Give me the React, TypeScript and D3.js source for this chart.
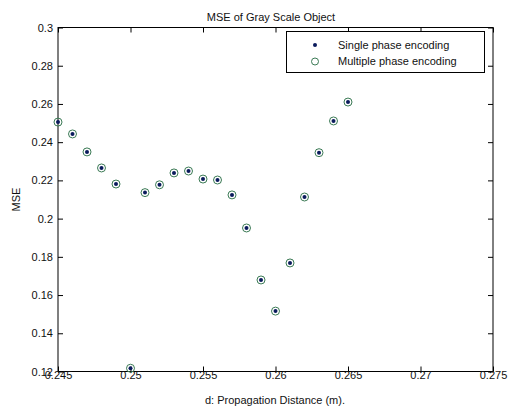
import React, { useEffect, useRef } from 'react';
import * as d3 from 'd3';

// propagation distance (m)
const distances = [
  0.245, 0.246, 0.247, 0.248, 0.249, 0.25, 0.251, 0.252, 0.253, 0.254, 0.255,
  0.256, 0.257, 0.258, 0.259, 0.26, 0.261, 0.262, 0.263, 0.264, 0.265,
];
// MSE, single phase encoding
const singleMse = [
  0.2505, 0.2443, 0.2349, 0.2265, 0.2181, 0.1217, 0.2136, 0.2177, 0.2239, 0.2249, 0.2207,
  0.2202, 0.2124, 0.1951, 0.1679, 0.1516, 0.1768, 0.2113, 0.2345, 0.2511, 0.261,
];
// MSE, multiple phase encoding (same values in the plot)
const multipleMse = [
  0.2505, 0.2443, 0.2349, 0.2265, 0.2181, 0.1217, 0.2136, 0.2177, 0.2239, 0.2249, 0.2207,
  0.2202, 0.2124, 0.1951, 0.1679, 0.1516, 0.1768, 0.2113, 0.2345, 0.2511, 0.261,
];
const xTicks = [0.245, 0.25, 0.255, 0.26, 0.265, 0.27, 0.275];
const yTicks = [0.12, 0.14, 0.16, 0.18, 0.2, 0.22, 0.24, 0.26, 0.28, 0.3];
const legendLabels = ['Single phase encoding', 'Multiple phase encoding'];

const font = 'Liberation Sans, Arial, sans-serif';
const dotColor = '#0a1a5c';
const ringColor = '#3b7a55';

const App = () => {
  const ref = useRef<SVGSVGElement>(null);

  useEffect(() => {
    const svg = d3.select(ref.current);
    svg.selectAll('*').remove();

    const left = 58, right = 493, top = 27.5, bottom = 371.5;

    const x = d3.scaleLinear().domain([0.245, 0.275]).range([left, right]);
    const y = d3.scaleLinear().domain([0.12, 0.3]).range([bottom, top]);

    svg.append('rect').attr('width', 509).attr('height', 408).attr('fill', '#fff');

    // box
    svg.append('rect')
      .attr('x', left).attr('y', top)
      .attr('width', right - left).attr('height', bottom - top)
      .attr('fill', 'none').attr('stroke', '#000').attr('stroke-width', 1);

    const fmt = (d: number) => d3.format('~g')(d);

    // bottom axis with inward ticks
    const xb = svg.append('g').attr('transform', `translate(0,${bottom})`)
      .call(d3.axisBottom(x).tickValues(xTicks).tickSizeInner(-5).tickSizeOuter(0).tickPadding(1).tickFormat(fmt as any));
    // top ticks
    svg.append('g').attr('transform', `translate(0,${top})`)
      .call(d3.axisTop(x).tickValues(xTicks).tickSizeInner(-5).tickSizeOuter(0).tickFormat(() => ''));
    const yl = svg.append('g').attr('transform', `translate(${left},0)`)
      .call(d3.axisLeft(y).tickValues(yTicks).tickSizeInner(-5).tickSizeOuter(0).tickPadding(5).tickFormat(fmt as any));
    svg.append('g').attr('transform', `translate(${right},0)`)
      .call(d3.axisRight(y).tickValues(yTicks).tickSizeInner(-5).tickSizeOuter(0).tickFormat(() => ''));

    svg.selectAll('.domain').remove();
    svg.selectAll('.tick line').attr('stroke', '#000');
    svg.selectAll('.tick text')
      .attr('font-family', font).attr('font-size', 11).attr('fill', '#111');
    xb.selectAll('.tick text').attr('dy', '0.6em');
    yl.selectAll('.tick text').attr('dy', '0.32em');

    // points
    const g = svg.append('g');
    g.selectAll('.ring')
      .data(distances)
      .enter()
      .append('circle')
      .attr('class', 'ring')
      .attr('cx', (d) => x(d))
      .attr('cy', (_d, i) => y(multipleMse[i]))
      .attr('r', 4)
      .attr('fill', 'none')
      .attr('stroke', ringColor)
      .attr('stroke-width', 1);
    g.selectAll('.dot')
      .data(distances)
      .enter()
      .append('circle')
      .attr('class', 'dot')
      .attr('cx', (d) => x(d))
      .attr('cy', (_d, i) => y(singleMse[i]))
      .attr('r', 2)
      .attr('fill', dotColor);

    // legend
    const lg = svg.append('g');
    lg.append('rect')
      .attr('x', 286.5).attr('y', 31.5).attr('width', 198).attr('height', 41)
      .attr('fill', '#fff').attr('stroke', '#000');
    lg.append('circle').attr('cx', 315).attr('cy', 45).attr('r', 2).attr('fill', dotColor);
    lg.append('circle').attr('cx', 315).attr('cy', 61.5).attr('r', 3.5)
      .attr('fill', 'none').attr('stroke', ringColor);
    legendLabels.forEach((t, i) => {
      lg.append('text')
        .attr('x', 338).attr('y', 45 + i * 16.5).attr('dy', '0.35em')
        .attr('font-family', font).attr('font-size', 11).attr('fill', '#111')
        .text(t);
    });

    // title and axis labels
    svg.append('text')
      .attr('x', 271).attr('y', 17).attr('dy', '0.35em').attr('text-anchor', 'middle')
      .attr('font-family', font).attr('font-size', 11).attr('fill', '#111')
      .text('MSE of Gray Scale Object');
    svg.append('text')
      .attr('x', 275).attr('y', 400).attr('dy', '0.35em').attr('text-anchor', 'middle')
      .attr('font-family', font).attr('font-size', 11).attr('fill', '#111')
      .text('d: Propagation Distance (m).');
    svg.append('text')
      .attr('transform', `translate(16,${(top + bottom) / 2}) rotate(-90)`)
      .attr('dy', '0.35em').attr('text-anchor', 'middle')
      .attr('font-family', font).attr('font-size', 11).attr('fill', '#111')
      .text('MSE');
  }, []);

  return <svg ref={ref} width={509} height={408} style={{ display: 'block', position: 'absolute', left: 0, top: 0 }} />;
};

export default App;
